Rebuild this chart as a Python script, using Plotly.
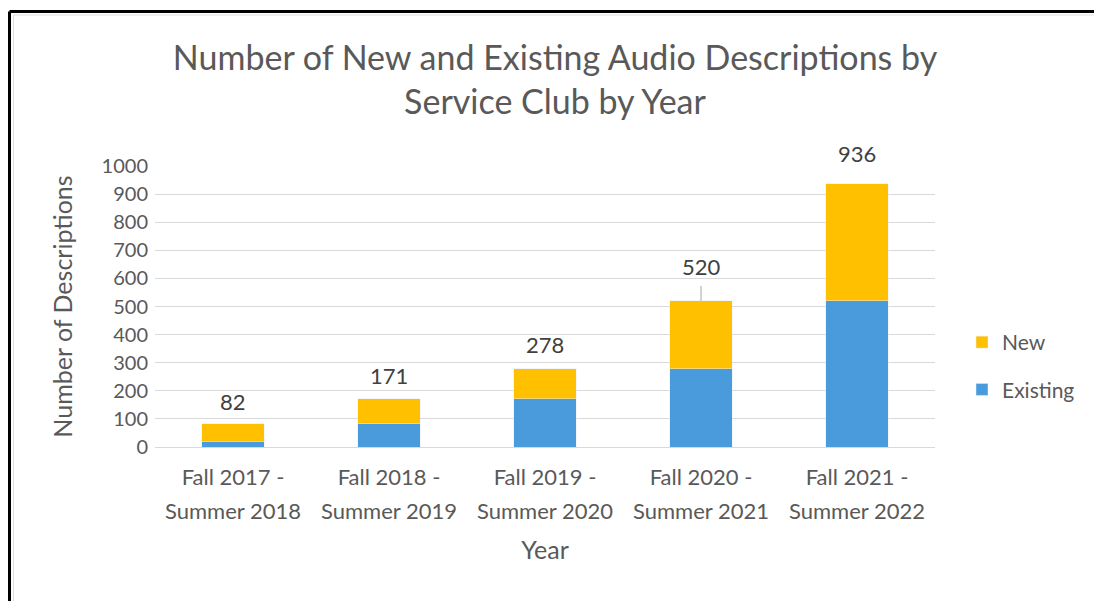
import plotly.graph_objects as go

# Academic years (category axis)
years = [
    "Fall 2017 -<br>Summer 2018",
    "Fall 2018 -<br>Summer 2019",
    "Fall 2019 -<br>Summer 2020",
    "Fall 2020 -<br>Summer 2021",
    "Fall 2021 -<br>Summer 2022",
]
existing = [20, 82, 171, 278, 520]
new = [62, 89, 107, 242, 416]
totals = [82, 171, 278, 520, 936]

BLUE = "#4A9BDC"
GOLD = "#FFC000"
TXT = "#595959"
FONT = "Lato"

W, H = 1094, 601
ML, MR, MT, MB = 155, 159, 166, 154
PW, PH = W - ML - MR, H - MT - MB


def px_x(p):
    return (p - ML) / PW


def px_y(p):
    return (H - MB - p) / PH


# tick text: wider line pitch than the glyph size
tick_text = ["<br>".join(f'<span style="font-size:22px">{part}</span>'
                         for part in y.split("<br>")) for y in years]

fig = go.Figure()
fig.add_trace(go.Bar(x=years, y=existing, name="Existing", marker_color=BLUE,
                     legendrank=2, legendgroup="existing"))
fig.add_trace(go.Bar(x=years, y=new, name="New", marker_color=GOLD,
                     legendrank=1, legendgroup="new"))

# total labels above each stacked bar
label_shift = [22, 23, 24, 34, 30]
for i, (cat, tot) in enumerate(zip(years, totals)):
    if i == 3:
        fig.add_annotation(x=cat, y=tot, text=str(tot), showarrow=True,
                           arrowhead=0, arrowwidth=1, arrowcolor="#A6A6A6",
                           ax=0, ay=-label_shift[i], startstandoff=4,
                           font=dict(family=FONT, size=22, color="#404040"))
    else:
        fig.add_annotation(x=cat, y=tot, text=str(tot), showarrow=False,
                           yshift=label_shift[i],
                           font=dict(family=FONT, size=22, color="#404040"))

# outer frame along left and top edges
fig.add_shape(type="line", xref="paper", yref="paper",
              x0=px_x(9.5), x1=px_x(1200), y0=px_y(11.5), y1=px_y(11.5),
              line=dict(color="black", width=3))
fig.add_shape(type="line", xref="paper", yref="paper",
              x0=px_x(9.5), x1=px_x(9.5), y0=px_y(11.5), y1=px_y(700),
              line=dict(color="black", width=3))
fig.add_shape(type="line", xref="paper", yref="paper",
              x0=px_x(13.5), x1=px_x(1200), y0=px_y(15), y1=px_y(15),
              line=dict(color="#E0E0E0", width=1))
fig.add_shape(type="line", xref="paper", yref="paper",
              x0=px_x(13.5), x1=px_x(13.5), y0=px_y(15), y1=px_y(700),
              line=dict(color="#E0E0E0", width=1))

fig.update_layout(
    width=W, height=H,
    margin=dict(l=ML, r=MR, t=MT, b=MB, autoexpand=False),
    paper_bgcolor="white", plot_bgcolor="white",
    barmode="stack", bargap=0.6,
    font=dict(family=FONT, color=TXT, size=20),
    title=dict(text="Number of New and Existing Audio Descriptions by<br>Service Club by Year",
               x=px_x(555), xanchor="center", xref="paper",
               y=1 - 70 / H, yanchor="middle",
               font=dict(family=FONT, size=34, color=TXT)),
    legend=dict(x=px_x(962), y=px_y(366), xanchor="left", yanchor="middle",
                traceorder="grouped", tracegroupgap=17,
                font=dict(family=FONT, size=21, color=TXT),
                itemwidth=30, bgcolor="rgba(0,0,0,0)"),
    showlegend=True,
)
fig.update_xaxes(
    title=dict(text="Year", font=dict(family=FONT, size=25, color=TXT), standoff=18),
    tickmode="array", tickvals=years, ticktext=tick_text,
    tickfont=dict(family=FONT, size=26, color=TXT),
    ticklabelstandoff=11,
    showline=False, ticks="", showgrid=False,
)
fig.update_yaxes(
    title=dict(text="Number of Descriptions", font=dict(family=FONT, size=25, color=TXT),
               standoff=21),
    range=[0, 1000], dtick=100, tick0=0,
    tickfont=dict(family=FONT, size=20, color=TXT),
    showgrid=True, gridcolor="#D9D9D9", gridwidth=1,
    zeroline=True, zerolinecolor="#D9D9D9", zerolinewidth=1,
    showline=False, ticks="", ticklabelstandoff=6,
)

fig.write_html("out.html")
